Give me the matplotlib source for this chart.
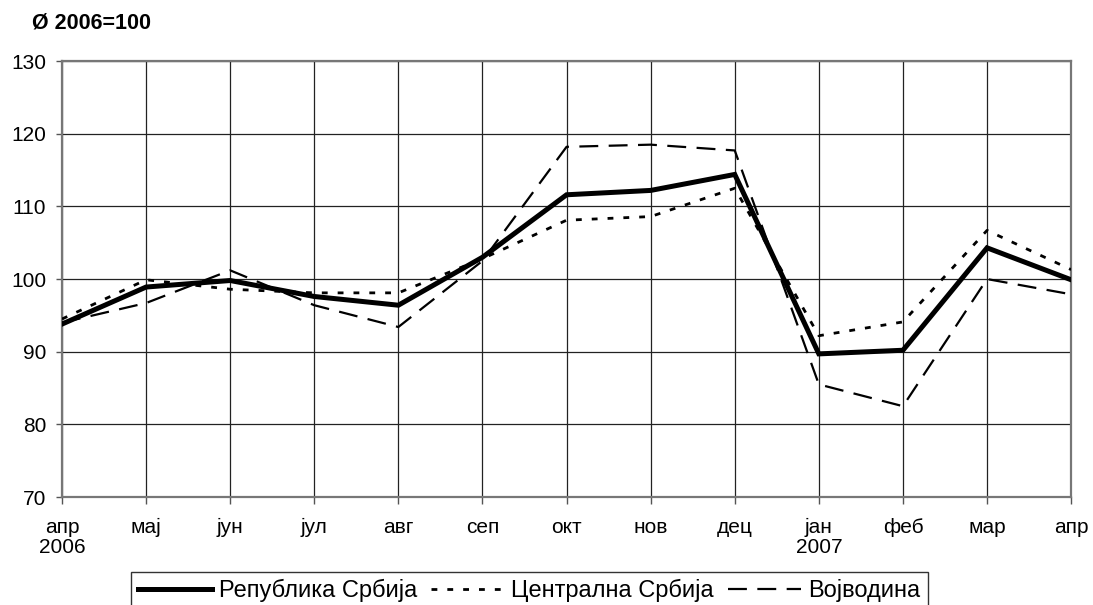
import matplotlib
matplotlib.use("Agg")
import matplotlib.pyplot as plt

plt.rcParams['font.family'] = ['Liberation Sans', 'DejaVu Sans']

# months apr 2006 - apr 2007
months = ['апр\n2006', 'мај', 'јун', 'јул', 'авг', 'сеп', 'окт', 'нов', 'дец',
          'јан\n2007', 'феб', 'мар', 'апр']
srbija = [93.8, 98.9, 99.8, 97.6, 96.4, 103.0, 111.6, 112.2, 114.4, 89.7, 90.2, 104.3, 99.9]
centralna = [94.5, 99.9, 98.6, 98.1, 98.1, 102.8, 108.1, 108.6, 112.5, 92.2, 94.1, 106.7, 101.3]
vojvodina = [94.0, 96.7, 101.2, 96.4, 93.4, 102.5, 118.2, 118.5, 117.7, 85.5, 82.5, 100.0, 97.9]

fig = plt.figure(figsize=(10.93, 6.05), dpi=100)
ax = fig.add_axes([0.0567, 0.1785, 0.9233, 0.7205])

x = range(len(months))
ax.plot(x, srbija, color='black', lw=3.6, solid_joinstyle='miter', label='Република Србија', zorder=5)
ax.plot(x, centralna, color='black', lw=2.0, linestyle=(0, (2.1, 3.6)), label='Централна Србија', zorder=4)
ax.plot(x, vojvodina, color='black', lw=1.6, linestyle=(0, (8.5, 4.7)), label='Војводина', zorder=4)

ax.set_xlim(0, len(months) - 1)
ax.set_ylim(70, 130)
ax.set_yticks(range(70, 131, 10))
ax.set_xticks(list(x))
ax.set_xticklabels(months, fontsize=15, linespacing=1.1)
ax.tick_params(axis='y', labelsize=15, length=4.5, width=1, color='#555555', pad=7)
ax.tick_params(axis='x', length=5, width=1, color='#555555', pad=10)
ax.grid(True, color='#222222', lw=0.9)
ax.set_axisbelow(True)
for s in ax.spines.values():
    s.set_color('#777777')
    s.set_linewidth(1.6)

fig.text(0.029, 0.962, 'Ø 2006=100', fontsize=15.5, fontweight='bold', va='center')

leg = fig.legend(loc='upper center', bbox_to_anchor=(0.4845, 0.0545), ncol=3, fontsize=17,
                 frameon=True, fancybox=False, handlelength=3.1, handletextpad=0.3,
                 columnspacing=0.6, borderpad=0.3, borderaxespad=0)
leg.get_frame().set_edgecolor('black')
leg.get_frame().set_linewidth(1.0)

fig.savefig('out.png', dpi=100)
